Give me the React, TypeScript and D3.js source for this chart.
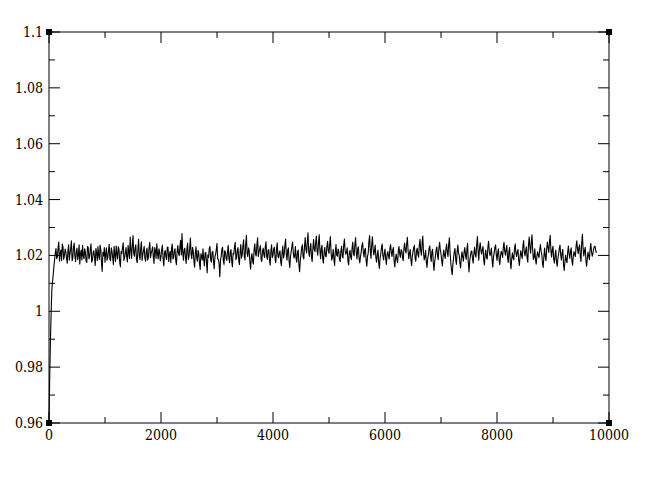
import React from 'react';
import * as d3 from 'd3';

// trace: samples every 25 steps ...
const seriesY: number[] = [
  0.9600, 0.9890, 1.0075, 1.0130, 1.0185, 1.0225, 1.0196, 1.0248, 1.0207, 1.0182, 1.0231, 1.0199, 1.0214, 1.0172, 1.0238, 1.0205,
  1.0252, 1.0190, 1.0244, 1.0178, 1.0226, 1.0201, 1.0169, 1.0219, 1.0236, 1.0188, 1.0211, 1.0175, 1.0229, 1.0196, 1.0242, 1.0183,
  1.0217, 1.0164, 1.0209, 1.0232, 1.0186, 1.0221, 1.0143, 1.0198, 1.0176, 1.0227, 1.0193, 1.0240, 1.0181, 1.0215, 1.0168, 1.0203,
  1.0234, 1.0187, 1.0222, 1.0159, 1.0206, 1.0245, 1.0191, 1.0228, 1.0177, 1.0212, 1.0266, 1.0189, 1.0271, 1.0197, 1.0238, 1.0174,
  1.0258, 1.0185, 1.0249, 1.0203, 1.0233, 1.0179, 1.0226, 1.0194, 1.0247, 1.0208, 1.0231, 1.0171, 1.0219, 1.0242, 1.0187, 1.0213,
  1.0196, 1.0237, 1.0162, 1.0218, 1.0185, 1.0229, 1.0203, 1.0174, 1.0241, 1.0192, 1.0224, 1.0167, 1.0235, 1.0199, 1.0254, 1.0278,
  1.0183, 1.0226, 1.0171, 1.0244, 1.0195, 1.0262, 1.0188, 1.0217, 1.0158, 1.0231, 1.0179, 1.0207, 1.0149, 1.0198, 1.0224, 1.0162,
  1.0211, 1.0138, 1.0193, 1.0232, 1.0176, 1.0215, 1.0152, 1.0204, 1.0243, 1.0186, 1.0124, 1.0197, 1.0229, 1.0168, 1.0213, 1.0182,
  1.0236, 1.0174, 1.0221, 1.0159, 1.0205, 1.0247, 1.0191, 1.0228, 1.0167, 1.0239, 1.0203, 1.0256, 1.0184, 1.0272, 1.0196, 1.0218,
  1.0151, 1.0207, 1.0169, 1.0242, 1.0198, 1.0263, 1.0212, 1.0235, 1.0178, 1.0226, 1.0193, 1.0249, 1.0186, 1.0221, 1.0165, 1.0238,
  1.0201, 1.0229, 1.0174, 1.0245, 1.0192, 1.0216, 1.0163, 1.0234, 1.0205, 1.0259, 1.0183, 1.0227, 1.0156, 1.0214, 1.0248, 1.0191,
  1.0232, 1.0176, 1.0219, 1.0142, 1.0203, 1.0238, 1.0187, 1.0264, 1.0209, 1.0281, 1.0196, 1.0243, 1.0178, 1.0257, 1.0214, 1.0269,
  1.0201, 1.0274, 1.0188, 1.0236, 1.0172, 1.0229, 1.0195, 1.0251, 1.0207, 1.0268, 1.0183, 1.0222, 1.0164, 1.0239, 1.0197, 1.0215,
  1.0178, 1.0233, 1.0191, 1.0259, 1.0204, 1.0227, 1.0166, 1.0218, 1.0185, 1.0248, 1.0199, 1.0264, 1.0187, 1.0231, 1.0173, 1.0212,
  1.0246, 1.0194, 1.0225, 1.0161, 1.0208, 1.0271, 1.0189, 1.0267, 1.0202, 1.0237, 1.0176, 1.0219, 1.0153, 1.0206, 1.0241, 1.0184,
  1.0223, 1.0168, 1.0214, 1.0187, 1.0239, 1.0196, 1.0228, 1.0159, 1.0205, 1.0174, 1.0232, 1.0193, 1.0217, 1.0181, 1.0244, 1.0209,
  1.0265, 1.0188, 1.0221, 1.0163, 1.0213, 1.0236, 1.0179, 1.0226, 1.0194, 1.0258, 1.0201, 1.0269, 1.0184, 1.0218, 1.0157, 1.0203,
  1.0234, 1.0178, 1.0222, 1.0146, 1.0197, 1.0231, 1.0185, 1.0247, 1.0206, 1.0162, 1.0219, 1.0189, 1.0241, 1.0196, 1.0263, 1.0174,
  1.0131, 1.0192, 1.0225, 1.0168, 1.0237, 1.0201, 1.0155, 1.0213, 1.0179, 1.0228, 1.0186, 1.0243, 1.0141, 1.0198, 1.0216, 1.0172,
  1.0229, 1.0194, 1.0268, 1.0183, 1.0245, 1.0205, 1.0232, 1.0166, 1.0219, 1.0187, 1.0251, 1.0199, 1.0226, 1.0158, 1.0211, 1.0238,
  1.0182, 1.0224, 1.0167, 1.0215, 1.0193, 1.0247, 1.0201, 1.0236, 1.0175, 1.0228, 1.0152, 1.0209, 1.0184, 1.0242, 1.0196, 1.0221,
  1.0164, 1.0217, 1.0189, 1.0253, 1.0198, 1.0231, 1.0176, 1.0266, 1.0208, 1.0274, 1.0186, 1.0224, 1.0169, 1.0213, 1.0192, 1.0239,
  1.0203, 1.0157, 1.0226, 1.0181, 1.0248, 1.0211, 1.0272, 1.0194, 1.0233, 1.0172, 1.0219, 1.0161, 1.0205, 1.0237, 1.0183, 1.0222,
  1.0146, 1.0201, 1.0174, 1.0234, 1.0189, 1.0227, 1.0165, 1.0214, 1.0196, 1.0252, 1.0206, 1.0238, 1.0178, 1.0276, 1.0198, 1.0229,
  1.0161, 1.0212, 1.0185, 1.0243, 1.0197, 1.0224, 1.0233, 1.0209
];
// ... and the samples half-way between them
const midY: number[] = [
  0.9760, 0.9990, 1.0105, 1.0160, 1.0210, 1.0188, 1.0227, 1.0179, 1.0219, 1.0241, 1.0186, 1.0223, 1.0191, 1.0215, 1.0183, 1.0226,
  1.0181, 1.0229, 1.0197, 1.0214, 1.0185, 1.0238, 1.0207, 1.0184, 1.0199, 1.0224, 1.0179, 1.0232, 1.0188, 1.0221, 1.0176, 1.0210,
  1.0193, 1.0225, 1.0181, 1.0198, 1.0237, 1.0172, 1.0211, 1.0228, 1.0204, 1.0183, 1.0218, 1.0186, 1.0227, 1.0192, 1.0233, 1.0178,
  1.0206, 1.0231, 1.0177, 1.0214, 1.0229, 1.0182, 1.0210, 1.0195, 1.0236, 1.0189, 1.0221, 1.0237, 1.0209, 1.0226, 1.0185, 1.0220,
  1.0199, 1.0226, 1.0182, 1.0217, 1.0190, 1.0214, 1.0183, 1.0229, 1.0192, 1.0218, 1.0195, 1.0228, 1.0189, 1.0206, 1.0224, 1.0180,
  1.0221, 1.0188, 1.0210, 1.0195, 1.0230, 1.0178, 1.0215, 1.0226, 1.0187, 1.0219, 1.0183, 1.0212, 1.0208, 1.0231, 1.0202, 1.0214,
  1.0219, 1.0190, 1.0223, 1.0186, 1.0227, 1.0205, 1.0229, 1.0181, 1.0207, 1.0192, 1.0218, 1.0172, 1.0206, 1.0183, 1.0187, 1.0209,
  1.0174, 1.0202, 1.0226, 1.0183, 1.0211, 1.0178, 1.0195, 1.0221, 1.0188, 1.0170, 1.0183, 1.0224, 1.0181, 1.0217, 1.0190, 1.0213,
  1.0189, 1.0214, 1.0180, 1.0208, 1.0231, 1.0185, 1.0219, 1.0183, 1.0213, 1.0190, 1.0234, 1.0197, 1.0239, 1.0208, 1.0227, 1.0176,
  1.0192, 1.0178, 1.0221, 1.0205, 1.0238, 1.0196, 1.0224, 1.0187, 1.0215, 1.0201, 1.0232, 1.0195, 1.0219, 1.0183, 1.0217, 1.0192,
  1.0224, 1.0186, 1.0221, 1.0197, 1.0212, 1.0178, 1.0210, 1.0191, 1.0237, 1.0204, 1.0219, 1.0180, 1.0196, 1.0233, 1.0209, 1.0198,
  1.0188, 1.0213, 1.0169, 1.0182, 1.0229, 1.0195, 1.0231, 1.0222, 1.0248, 1.0215, 1.0227, 1.0193, 1.0226, 1.0221, 1.0247, 1.0214,
  1.0246, 1.0219, 1.0225, 1.0187, 1.0213, 1.0198, 1.0232, 1.0216, 1.0241, 1.0209, 1.0196, 1.0187, 1.0213, 1.0201, 1.0223, 1.0184,
  1.0217, 1.0196, 1.0237, 1.0218, 1.0211, 1.0182, 1.0209, 1.0193, 1.0228, 1.0205, 1.0241, 1.0211, 1.0224, 1.0189, 1.0197, 1.0235,
  1.0213, 1.0221, 1.0183, 1.0196, 1.0249, 1.0214, 1.0238, 1.0225, 1.0216, 1.0191, 1.0203, 1.0174, 1.0190, 1.0229, 1.0197, 1.0208,
  1.0187, 1.0203, 1.0198, 1.0226, 1.0211, 1.0219, 1.0182, 1.0189, 1.0186, 1.0216, 1.0205, 1.0221, 1.0193, 1.0225, 1.0218, 1.0243,
  1.0216, 1.0209, 1.0185, 1.0197, 1.0228, 1.0190, 1.0215, 1.0203, 1.0237, 1.0217, 1.0243, 1.0212, 1.0195, 1.0178, 1.0189, 1.0226,
  1.0198, 1.0214, 1.0173, 1.0178, 1.0219, 1.0201, 1.0225, 1.0220, 1.0181, 1.0196, 1.0200, 1.0223, 1.0211, 1.0240, 1.0209, 1.0148,
  1.0167, 1.0213, 1.0186, 1.0212, 1.0209, 1.0173, 1.0191, 1.0194, 1.0213, 1.0202, 1.0222, 1.0176, 1.0179, 1.0214, 1.0188, 1.0208,
  1.0203, 1.0240, 1.0215, 1.0227, 1.0218, 1.0221, 1.0184, 1.0204, 1.0191, 1.0230, 1.0215, 1.0209, 1.0182, 1.0194, 1.0229, 1.0203,
  1.0209, 1.0185, 1.0198, 1.0207, 1.0228, 1.0216, 1.0221, 1.0194, 1.0213, 1.0176, 1.0187, 1.0191, 1.0223, 1.0210, 1.0214, 1.0182,
  1.0196, 1.0201, 1.0233, 1.0212, 1.0218, 1.0189, 1.0238, 1.0231, 1.0247, 1.0218, 1.0193, 1.0185, 1.0197, 1.0201, 1.0221, 1.0214,
  1.0171, 1.0198, 1.0195, 1.0224, 1.0226, 1.0249, 1.0217, 1.0221, 1.0187, 1.0202, 1.0177, 1.0189, 1.0225, 1.0201, 1.0209, 1.0168,
  1.0177, 1.0183, 1.0212, 1.0206, 1.0215, 1.0181, 1.0197, 1.0203, 1.0234, 1.0222, 1.0229, 1.0195, 1.0245, 1.0226, 1.0217, 1.0183,
  1.0188, 1.0199, 1.0222, 1.0214, 1.0206, 1.0231, 1.0218
];
const sampleStep = 25;

const xMajorTicks = [0, 2000, 4000, 6000, 8000, 10000];
const xMinorTicks = [1000, 3000, 5000, 7000, 9000];
const yMajorTicks = [0.96, 0.98, 1.0, 1.02, 1.04, 1.06, 1.08, 1.1];
const yMinorTicks = [0.97, 0.99, 1.01, 1.03, 1.05, 1.07, 1.09];
const yTickLabels = ['0.96', '0.98', '1', '1.02', '1.04', '1.06', '1.08', '1.1'];
const xTickLabels = ['0', '2000', '4000', '6000', '8000', '10000'];

const W = 662, H = 485;
const frame = { left: 49, top: 32, right: 609, bottom: 423 };
const majorLen = 11, minorLen = 6;
const labelFont = "'DejaVu Serif Condensed', 'DejaVu Serif', serif";

export default function App() {
  const x = d3.scaleLinear().domain([0, 10000]).range([frame.left, frame.right]);
  const y = d3.scaleLinear().domain([0.96, 1.1]).range([frame.bottom, frame.top]);

  const points: [number, number][] = [];
  seriesY.forEach((v, i) => {
    points.push([i * sampleStep, v]);
    if (i < midY.length) points.push([i * sampleStep + sampleStep / 2, midY[i]]);
  });
  const line = d3.line<[number, number]>().x(d => x(d[0])).y(d => y(d[1]));

  const axisColor = '#000';

  const corners = [
    [frame.left, frame.top], [frame.right, frame.top],
    [frame.left, frame.bottom], [frame.right, frame.bottom]
  ];

  return (
    <svg width={W} height={H} style={{ position: 'absolute', left: 0, top: 0, background: '#fff' }}>
      <path d={line(points) || ''} fill="none" stroke="#000" strokeWidth={1.1} strokeLinejoin="round" />

      <rect x={frame.left} y={frame.top} width={frame.right - frame.left} height={frame.bottom - frame.top}
            fill="none" stroke={axisColor} strokeWidth={1} />

      {/* ticks on all four sides, pointing inward */}
      {xMajorTicks.map(t => (
        <g key={'xM' + t}>
          <line x1={x(t)} x2={x(t)} y1={frame.bottom} y2={frame.bottom - majorLen} stroke={axisColor} />
          <line x1={x(t)} x2={x(t)} y1={frame.top} y2={frame.top + majorLen} stroke={axisColor} />
        </g>
      ))}
      {xMinorTicks.map(t => (
        <g key={'xm' + t}>
          <line x1={x(t)} x2={x(t)} y1={frame.bottom} y2={frame.bottom - minorLen} stroke={axisColor} />
          <line x1={x(t)} x2={x(t)} y1={frame.top} y2={frame.top + minorLen} stroke={axisColor} />
        </g>
      ))}
      {yMajorTicks.map(t => (
        <g key={'yM' + t}>
          <line x1={frame.left} x2={frame.left + majorLen} y1={y(t)} y2={y(t)} stroke={axisColor} />
          <line x1={frame.right} x2={frame.right - majorLen} y1={y(t)} y2={y(t)} stroke={axisColor} />
        </g>
      ))}
      {yMinorTicks.map(t => (
        <g key={'ym' + t}>
          <line x1={frame.left} x2={frame.left + minorLen} y1={y(t)} y2={y(t)} stroke={axisColor} />
          <line x1={frame.right} x2={frame.right - minorLen} y1={y(t)} y2={y(t)} stroke={axisColor} />
        </g>
      ))}

      {xMajorTicks.map((t, i) => (
        <text key={'xl' + t} x={x(t)} y={frame.bottom + 17} textAnchor="middle"
              fontFamily={labelFont} fontSize={14} fill="#000">
          {xTickLabels[i]}
        </text>
      ))}
      {yMajorTicks.map((t, i) => (
        <text key={'yl' + t} x={frame.left - 6} y={y(t) + 5} textAnchor="end"
              fontFamily={labelFont} fontSize={14} fill="#000">
          {yTickLabels[i]}
        </text>
      ))}

      {corners.map(([cx, cy], i) => (
        <rect key={'c' + i} x={cx - 3} y={cy - 3} width={6} height={6} fill="#000" />
      ))}
    </svg>
  );
}
